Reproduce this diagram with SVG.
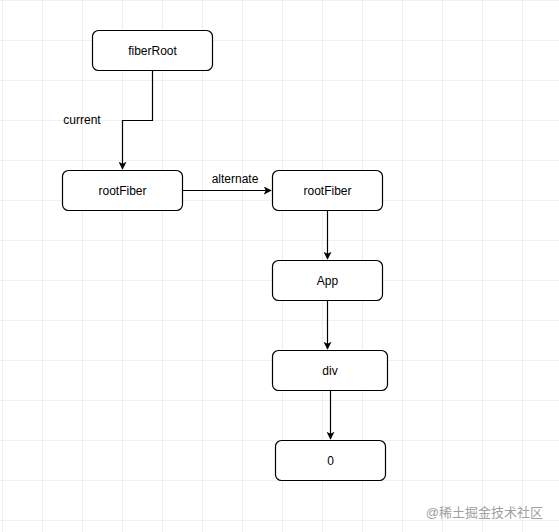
<svg xmlns="http://www.w3.org/2000/svg" width="559" height="532" viewBox="0 0 559 532">
<defs>
<pattern id="grid" x="2" y="0" width="40" height="40" patternUnits="userSpaceOnUse">
<path d="M0 0 H40 M0 0 V40" fill="none" stroke="#e3e3e3" stroke-width="1.2"/>
</pattern>
<marker id="arr" viewBox="0 0 10 10" refX="9" refY="5" markerWidth="8" markerHeight="8" markerUnits="userSpaceOnUse" orient="auto">
<path d="M0 0 L10 5 L0 10 L2.5 5 Z" fill="#000"/>
</marker>
</defs>
<style>
.box{fill:#fff;stroke:#000;stroke-width:1.2}
.t{font-family:"Liberation Sans",Arial,sans-serif;font-size:12px;fill:#000;text-anchor:middle}
.c{fill:none;stroke:#000;stroke-width:1.2}
</style>
<rect width="559" height="532" fill="#fff"/>
<rect width="559" height="532" fill="url(#grid)"/>
<g id="connectors">
<path class="c" d="M152.5 70.5 V120.5 H122.5 V169" marker-end="url(#arr)"/>
<text class="t" x="82" y="124">current</text>
<path class="c" d="M182.5 190.5 H271" marker-end="url(#arr)"/>
<text class="t" x="235" y="183">alternate</text>
<path class="c" d="M327.5 210.5 V259" marker-end="url(#arr)"/>
<path class="c" d="M327.5 300.5 V349" marker-end="url(#arr)"/>
<path class="c" d="M330.5 390.5 V439" stroke="#333" marker-end="url(#arr)"/>
</g>
<g id="fiberRoot"><rect class="box" x="92.5" y="30.5" width="120" height="40" rx="6"/><text class="t" x="152.5" y="55">fiberRoot</text></g>
<g id="rootFiberCurrent"><rect class="box" x="62.5" y="170.5" width="120" height="40" rx="6"/><text class="t" x="122.5" y="195">rootFiber</text></g>
<g id="rootFiberAlt"><rect class="box" x="272.5" y="170.5" width="110" height="40" rx="6"/><text class="t" x="327.5" y="195">rootFiber</text></g>
<g id="App"><rect class="box" x="272.5" y="260.5" width="110" height="40" rx="6"/><text class="t" x="327.5" y="285">App</text></g>
<g id="div"><rect class="box" x="272.5" y="350.5" width="115" height="40" rx="6"/><text class="t" x="330" y="375">div</text></g>
<g id="zero"><rect class="box" x="275.5" y="440.5" width="110" height="40" rx="6"/><text class="t" x="330.5" y="465">0</text></g>
<text x="543" y="517" font-family="'Liberation Sans','Noto Sans CJK SC',sans-serif" font-size="13" fill="#a0a0a0" text-anchor="end">@稀土掘金技术社区</text>
</svg>
